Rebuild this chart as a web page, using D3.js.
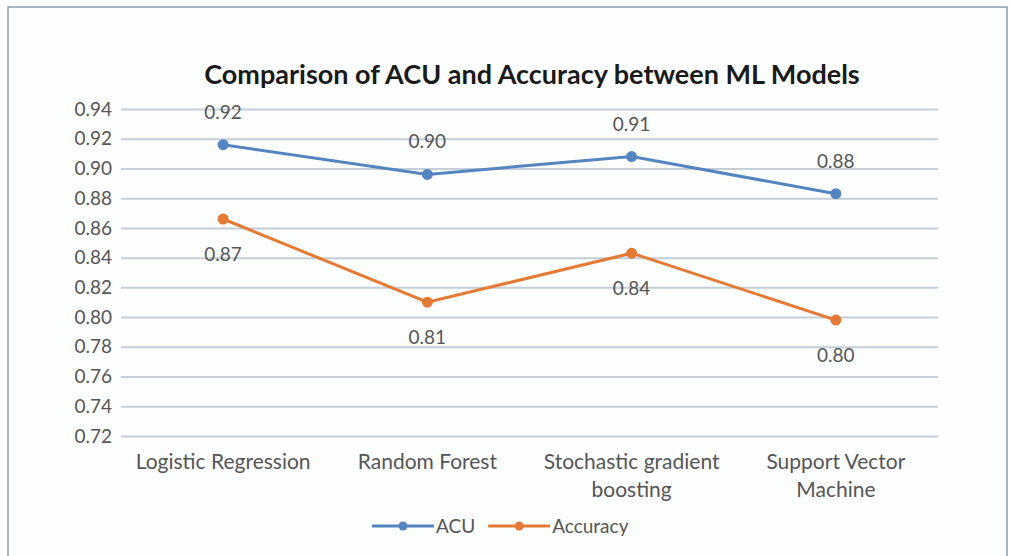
<!DOCTYPE html>
<html>
<head>
<meta charset="utf-8">
<script src="https://cdn.jsdelivr.net/npm/d3@7"></script>
<style>
  body { margin: 0; background: #fff; }
  svg { display: block; font-family: Lato, "Open Sans", sans-serif; }
</style>
</head>
<body>
<svg id="chart" width="1011" height="556"></svg>
<script>
// data
const models = ["Logistic Regression", "Random Forest", "Stochastic gradient boosting", "Support Vector Machine"];
const modelLines = [["Logistic Regression"], ["Random Forest"], ["Stochastic gradient", "boosting"], ["Support Vector", "Machine"]];
const acu = [0.916, 0.896, 0.908, 0.883];
const accuracy = [0.866, 0.810, 0.843, 0.798];
const yTicks = [0.72, 0.74, 0.76, 0.78, 0.80, 0.82, 0.84, 0.86, 0.88, 0.90, 0.92, 0.94];

const seriesList = [
  { name: "ACU", values: acu, color: "#5585c0", labelPos: "above" },
  { name: "Accuracy", values: accuracy, color: "#e57a34", labelPos: "below" }
];

const svg = d3.select("#chart");
const W = 1011, H = 556;

// frame
svg.append("rect").attr("x", 8).attr("y", 7).attr("width", W - 12).attr("height", H)
  .attr("fill", "#fdfefe").attr("stroke", "#8a9fb0").attr("stroke-width", 1.5);

const margin = { left: 121, right: 73, top: 109, bottom: 120 };
const x = d3.scaleBand().domain(models).range([margin.left, W - margin.right]);
const y = d3.scaleLinear().domain([0.72, 0.94]).range([H - margin.bottom, margin.top]);

// title
svg.append("text").attr("x", 532).attr("y", 84).attr("text-anchor", "middle")
  .attr("font-size", 27).attr("font-weight", "bold").attr("fill", "#1a1a1a")
  .text("Comparison of ACU and Accuracy between ML Models");

// gridlines + y axis labels
const yAxis = d3.axisLeft(y).tickValues(yTicks).tickFormat(d3.format(".2f"))
  .tickSize(-(W - margin.left - margin.right)).tickPadding(9);
const gy = svg.append("g").attr("transform", `translate(${margin.left},0)`).call(yAxis);
gy.select(".domain").remove();
gy.selectAll(".tick line").attr("stroke", "#c3ced8").attr("stroke-width", 2);
gy.selectAll(".tick text").attr("font-size", 19).attr("fill", "#555").attr("font-family", "Lato, sans-serif");

// category labels (wrapped like the original)
const gx = svg.append("g");
models.forEach((m, i) => {
  const t = gx.append("text").attr("x", x(m) + x.bandwidth() / 2).attr("y", 469)
    .attr("text-anchor", "middle").attr("font-size", 21).attr("fill", "#555");
  modelLines[i].forEach((ln, j) => {
    t.append("tspan").attr("x", x(m) + x.bandwidth() / 2).attr("dy", j === 0 ? 0 : 28).text(ln);
  });
});

const cx = i => x(models[i]) + x.bandwidth() / 2;
const line = d3.line().x((d, i) => cx(i)).y(d => y(d));

seriesList.forEach(s => {
  svg.append("path").datum(s.values).attr("d", line)
    .attr("fill", "none").attr("stroke", s.color).attr("stroke-width", 3);
  svg.selectAll(null).data(s.values).join("circle")
    .attr("cx", (d, i) => cx(i)).attr("cy", d => y(d)).attr("r", 5.5).attr("fill", s.color);
  svg.selectAll(null).data(s.values).join("text")
    .attr("x", (d, i) => cx(i))
    .attr("y", d => s.labelPos === "above" ? y(d) - 26 : y(d) + 42)
    .attr("text-anchor", "middle").attr("font-size", 19).attr("fill", "#555")
    .text(d => d3.format(".2f")(d));
});

// legend
const legend = svg.append("g").attr("transform", "translate(372,526)");
let lx = 0;
seriesList.forEach(s => {
  const g = legend.append("g").attr("transform", `translate(${lx},0)`);
  g.append("line").attr("x1", 0).attr("x2", 62).attr("y1", 0).attr("y2", 0)
    .attr("stroke", s.color).attr("stroke-width", 3);
  g.append("circle").attr("cx", 31).attr("cy", 0).attr("r", 4.5).attr("fill", s.color);
  const t = g.append("text").attr("x", 64).attr("y", 7).attr("font-size", 19).attr("fill", "#555").text(s.name);
  lx += 64 + t.node().getComputedTextLength() + 13;
});
</script>
</body>
</html>
